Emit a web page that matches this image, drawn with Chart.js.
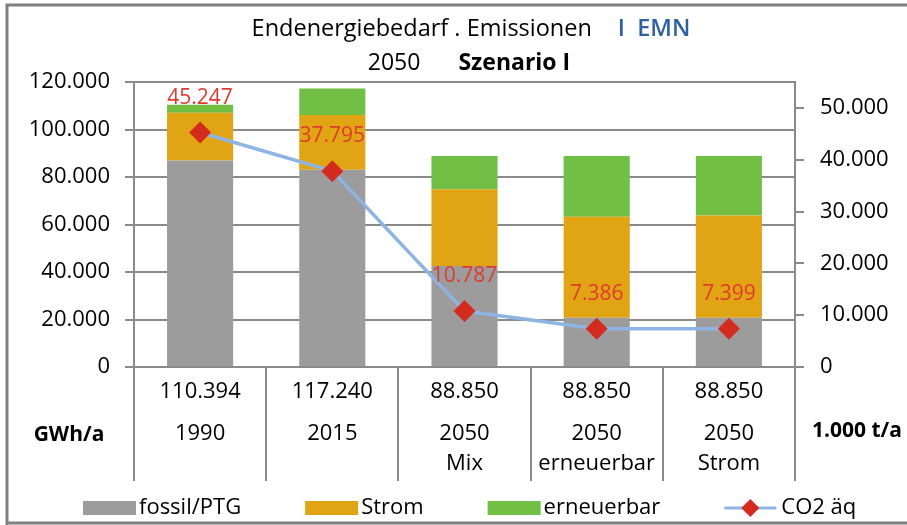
<!DOCTYPE html>
<html>
<head>
<meta charset="utf-8">
<script src="https://cdn.jsdelivr.net/npm/chart.js@4"></script>
<style>
  html, body { margin: 0; padding: 0; background: #fff; }
  #wrap { width: 907px; height: 525px; }
</style>
</head>
<body>
<div id="wrap"><canvas id="energyChart" width="907" height="525"></canvas></div>
<script>
// ==========================
// DATEN
// ==========================
const totals = ['110.394', '117.240', '88.850', '88.850', '88.850'];
const categories = [['1990'], ['2015'], ['2050', 'Mix'], ['2050', 'erneuerbar'], ['2050', 'Strom']];

const fossil = [86900, 83100, 42550, 20700, 20700];
const strom = [20200, 23000, 32250, 42550, 43100];
const erneuerbar = [3294, 11140, 14050, 25600, 25050];
const co2 = [45247, 37795, 10787, 7386, 7399];

const leftTicks = [0, 20000, 40000, 60000, 80000, 100000, 120000];
const rightTicks = [0, 10000, 20000, 30000, 40000, 50000];

const FONT = '"Open Sans", Lato, sans-serif';
const GRID = '#8a8a8a';
const COLORS = ['#9c9c9c', '#e1a514', '#71bf44'];
const LINE_COLOR = '#8db4e2';
const MARKER_COLOR = '#d52b1e';

function dotted(v) {
    return String(v).replace(/\B(?=(\d{3})+(?!\d))/g, '.');
}

// ==========================
// PLUGIN: Rahmen, Tabelle, Titel, Legende, Werte
// ==========================
const decoPlugin = {
    id: 'deco',
    beforeDraw(chart) {
        const ctx = chart.ctx;
        ctx.save();
        ctx.fillStyle = '#fff';
        ctx.fillRect(0, 0, chart.width, chart.height);
        ctx.restore();
    },
    afterDraw(chart) {
        const ctx = chart.ctx;
        const area = chart.chartArea;
        const xs = chart.scales.x;
        ctx.save();

        // frame
        ctx.strokeStyle = '#7f7f7f';
        ctx.lineWidth = 3;
        ctx.beginPath();
        ctx.moveTo(7, chart.height);
        ctx.lineTo(7, 5);
        ctx.lineTo(chart.width, 5);
        ctx.moveTo(7, chart.height - 2);
        ctx.lineTo(chart.width, chart.height - 2);
        ctx.stroke();

        // table separators
        ctx.strokeStyle = GRID;
        ctx.lineWidth = 2;
        const n = categories.length;
        const step = (xs.right - xs.left) / n;
        for (let i = 0; i <= n; i++) {
            const x = Math.round(xs.left + i * step);
            ctx.beginPath();
            ctx.moveTo(x, area.bottom);
            ctx.lineTo(x, area.bottom + 114);
            ctx.stroke();
        }

        // unit labels
        ctx.fillStyle = '#000';
        ctx.font = 'bold 21px ' + FONT;
        ctx.textBaseline = 'middle';
        ctx.textAlign = 'center';
        ctx.fillText('GWh/a', 69, area.bottom + 68);
        ctx.textAlign = 'left';
        ctx.fillText('1.000 t/a', 812, area.bottom + 64);

        // title line 1
        const t1a = 'Endenergiebedarf . Emissionen';
        const t1b = 'I  EMN';
        ctx.font = '23.5px ' + FONT;
        const w1a = ctx.measureText(t1a).width;
        ctx.font = '600 23.5px ' + FONT;
        const w1b = ctx.measureText(t1b).width;
        let x0 = 471 - (w1a + 26 + w1b) / 2;
        ctx.fillStyle = '#000';
        ctx.font = '23.5px ' + FONT;
        ctx.fillText(t1a, x0, 29);
        ctx.fillStyle = '#2f5fa7';
        ctx.font = '600 23.5px ' + FONT;
        ctx.fillText(t1b, x0 + w1a + 26, 29);

        // title line 2
        const t2a = '2050';
        const t2b = 'Szenario I';
        ctx.font = '23px ' + FONT;
        const w2a = ctx.measureText(t2a).width;
        ctx.font = 'bold 23px ' + FONT;
        const w2b = ctx.measureText(t2b).width;
        x0 = 469 - (w2a + 38 + w2b) / 2;
        ctx.fillStyle = '#000';
        ctx.font = '23px ' + FONT;
        ctx.fillText(t2a, x0, 63);
        ctx.font = 'bold 23px ' + FONT;
        ctx.fillText(t2b, x0 + w2a + 38, 63);

        // CO2 value labels
        const meta = chart.getDatasetMeta(3);
        ctx.font = '21px ' + FONT;
        ctx.fillStyle = '#e03a2e';
        ctx.textAlign = 'center';
        meta.data.forEach((pt, i) => {
            ctx.fillText(dotted(co2[i]), pt.x, pt.y - 35);
        });

        // legend
        ctx.font = '22px ' + FONT;
        ctx.textAlign = 'left';
        const ly = 508;
        let lx = 83;
        chart.data.datasets.forEach((ds, i) => {
            if (ds.type === 'line') {
                ctx.strokeStyle = LINE_COLOR;
                ctx.lineWidth = 3;
                ctx.beginPath();
                ctx.moveTo(lx, ly); ctx.lineTo(lx + 52, ly);
                ctx.stroke();
                ctx.fillStyle = MARKER_COLOR;
                ctx.beginPath();
                ctx.moveTo(lx + 26, ly - 9); ctx.lineTo(lx + 35, ly);
                ctx.lineTo(lx + 26, ly + 9); ctx.lineTo(lx + 17, ly);
                ctx.closePath(); ctx.fill();
                lx += 57;
            } else {
                ctx.fillStyle = ds.backgroundColor;
                ctx.fillRect(lx, ly - 7, 53, 14);
                lx += 56;
            }
            ctx.fillStyle = '#000';
            ctx.fillText(ds.label, lx, ly);
            lx += ctx.measureText(ds.label).width + 64;
        });
        ctx.restore();
    }
};

// ==========================
// GRAFIK
// ==========================
const ctx = document.getElementById('energyChart').getContext('2d');

const energyChart = new Chart(ctx, {
    type: 'bar',
    data: {
        labels: categories,
        datasets: [
            { label: 'fossil/PTG', data: fossil, backgroundColor: COLORS[0], stack: 's', order: 2 },
            { label: 'Strom', data: strom, backgroundColor: COLORS[1], stack: 's', order: 2 },
            { label: 'erneuerbar', data: erneuerbar, backgroundColor: COLORS[2], stack: 's', order: 2 },
            {
                type: 'line',
                label: 'CO2 äq',
                data: co2,
                yAxisID: 'y1',
                borderColor: LINE_COLOR,
                borderWidth: 3.5,
                pointStyle: 'rectRot',
                pointRadius: 11,
                pointBackgroundColor: MARKER_COLOR,
                pointBorderColor: MARKER_COLOR,
                pointBorderWidth: 0,
                tension: 0,
                order: 1
            }
        ]
    },
    options: {
        responsive: false,
        animation: false,
        events: [],
        devicePixelRatio: 1,
        layout: { padding: { top: 82, left: 0, right: 0, bottom: 44 } },
        datasets: { bar: { categoryPercentage: 1, barPercentage: 0.5 } },
        plugins: {
            title: { display: false },
            tooltip: { enabled: false },
            legend: { display: false }
        },
        scales: {
            x: {
                stacked: true,
                offset: true,
                weight: 2,
                grid: { display: false, drawOnChartArea: false, drawTicks: false },
                border: { display: false },
                ticks: {
                    color: '#000',
                    padding: 2,
                    maxRotation: 0,
                    autoSkip: false,
                    font: { family: FONT, size: 22, lineHeight: '30px' }
                },
                afterFit(s) { s.height = 64; }
            },
            xTot: {
                type: 'category',
                labels: totals,
                position: 'bottom',
                offset: true,
                weight: 1,
                grid: { display: false, drawOnChartArea: false, drawTicks: false },
                border: { display: false },
                ticks: {
                    color: '#000',
                    padding: 12,
                    maxRotation: 0,
                    autoSkip: false,
                    font: { family: FONT, size: 22, lineHeight: '26px' }
                },
                afterFit(s) { s.height = 50; }
            },
            y: {
                stacked: true,
                min: 0,
                max: 120000,
                afterBuildTicks(s) { s.ticks = leftTicks.map(v => ({ value: v })); },
                grid: { color: GRID, lineWidth: 2, tickLength: 9 },
                border: { color: GRID, width: 2 },
                ticks: {
                    color: '#000',
                    padding: 15,
                    font: { family: FONT, size: 22 },
                    callback: v => dotted(v)
                },
                afterFit(s) { s.width = 134; }
            },
            y1: {
                position: 'right',
                min: 0,
                max: 55000,
                afterBuildTicks(s) { s.ticks = rightTicks.map(v => ({ value: v })); },
                grid: { drawOnChartArea: false, color: GRID, lineWidth: 2, tickLength: 9 },
                border: { color: GRID, width: 2 },
                ticks: {
                    color: '#000',
                    padding: 16,
                    font: { family: FONT, size: 22 },
                    callback: v => dotted(v)
                },
                afterFit(s) { s.width = 112; }
            }
        }
    },
    plugins: [decoPlugin]
});
</script>
</body>
</html>
